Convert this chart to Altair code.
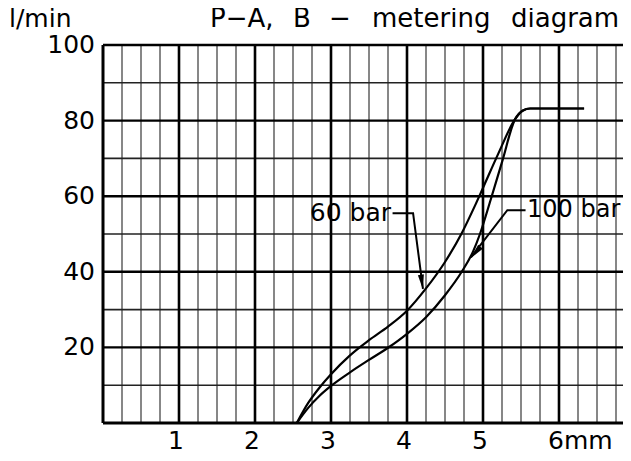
import altair as alt
import pandas as pd

# ---- data ----
x_60 = [2.55, 2.7, 2.85, 3.0, 3.25, 3.5, 3.75, 4.0, 4.25, 4.5, 4.72, 4.89, 5.0, 5.2, 5.42, 5.52, 5.62, 6.33]
y_60 = [0.0, 5.3, 9.4, 12.9, 17.9, 21.9, 25.5, 29.7, 35.6, 42.6, 50.2, 57.3, 62.2, 71.2, 80.3, 82.6, 83.2, 83.2]

x_100 = [2.55, 2.7, 2.85, 3.0, 3.25, 3.5, 3.75, 4.0, 4.25, 4.5, 4.72, 4.87, 4.96, 5.1, 5.25, 5.42, 5.52, 5.62, 6.33]
y_100 = [0.0, 4.0, 7.2, 9.8, 13.4, 16.7, 19.9, 23.6, 28.0, 33.8, 40.0, 45.4, 50.0, 59.0, 69.0, 80.3, 82.6, 83.2, 83.2]

x_ticks = [1, 2, 3, 4, 5, 6]
x_tick_labels = ["1", "2", "3", "4", "5", "6mm"]
y_ticks = [20, 40, 60, 80, 100]
y_tick_labels = ["20", "40", "60", "80", "100"]

x_minor = [i * 0.25 for i in range(1, 28) if i % 4 != 0]
x_major = [1, 2, 3, 4, 5, 6]
y_minor = [10, 30, 50, 70, 90]
y_major = [20, 40, 60, 80, 100]

# leader lines for the annotations
lead60_x = [4.08, 3.81, 4.08, 4.21]
lead60_y = [55.5, 55.5, 55.5, 35.5]
lead100_x = [5.56, 5.32, 4.84]
lead100_y = [56.3, 56.3, 43.8]
arrow_x = [4.21, 4.84]
arrow_y = [35.3, 43.6]
arrow_angle = [172, 220]
ann_x = [3.79, 5.58]
ann_y = [55.5, 56.3]
ann_text = ["60 bar", "100 bar"]

# title pieces (words of one title line)
title_words = ["P−A,", "B", "−", "metering", "diagram"]
title_px = [107, 190, 226, 269, 408]

W, H = 520, 378
XMAX = W / 76.0
FONT = "DejaVu Sans"
FS = 25

xs = alt.Scale(domain=[0, XMAX], nice=False, zero=False)
ys = alt.Scale(domain=[0, 100], nice=False, zero=False)

def X(f="x"):
    return alt.X(f"{f}:Q", scale=xs, axis=None)

def Y(f="y"):
    return alt.Y(f"{f}:Q", scale=ys, axis=None)

vminor = alt.Chart(pd.DataFrame({"x": x_minor})).mark_rule(color="#7a7a7a", strokeWidth=1.8).encode(x=X())
hminor = alt.Chart(pd.DataFrame({"y": y_minor})).mark_rule(color="#222222", strokeWidth=1.6).encode(y=Y())
vmajor = alt.Chart(pd.DataFrame({"x": x_major})).mark_rule(color="black", strokeWidth=2.6).encode(x=X())
hmajor = alt.Chart(pd.DataFrame({"y": y_major})).mark_rule(color="black", strokeWidth=2.4).encode(y=Y())
left_axis = alt.Chart(pd.DataFrame({"x": [0]})).mark_rule(color="black", strokeWidth=3).encode(x=X())
bottom_axis = alt.Chart(pd.DataFrame({"y": [0]})).mark_rule(color="black", strokeWidth=3).encode(y=Y())

df60 = pd.DataFrame({"x": x_60, "y": y_60, "o": range(len(x_60))})
df100 = pd.DataFrame({"x": x_100, "y": y_100, "o": range(len(x_100))})
c60 = alt.Chart(df60).mark_line(color="black", strokeWidth=2.2, interpolate="monotone").encode(x=X(), y=Y(), order="o:Q")
c100 = alt.Chart(df100).mark_line(color="black", strokeWidth=2.2, interpolate="monotone").encode(x=X(), y=Y(), order="o:Q")

l60 = alt.Chart(pd.DataFrame({"x": lead60_x, "y": lead60_y, "o": range(len(lead60_x))})).mark_line(
    color="black", strokeWidth=2).encode(x=X(), y=Y(), order="o:Q")
l100 = alt.Chart(pd.DataFrame({"x": lead100_x, "y": lead100_y, "o": range(len(lead100_x))})).mark_line(
    color="black", strokeWidth=2).encode(x=X(), y=Y(), order="o:Q")

arrows = alt.Chart(pd.DataFrame({"x": arrow_x, "y": arrow_y, "a": arrow_angle})).mark_point(
    shape="M0,0L0.2,1L-0.2,1Z", size=900, filled=True, color="black", opacity=1, strokeWidth=0
).encode(x=X(), y=Y(), angle=alt.Angle("a:Q", scale=None))

ann_df = pd.DataFrame({"x": ann_x, "y": ann_y, "t": ann_text})
ann60 = alt.Chart(ann_df.iloc[[0]]).mark_text(font=FONT, fontSize=FS, align="right", baseline="middle", color="black").encode(
    x=X(), y=Y(), text="t:N")
ann100 = alt.Chart(ann_df.iloc[[1]]).mark_text(font=FONT, fontSize=24, align="left", baseline="middle", color="black").encode(
    x=X(), y=Y(), text="t:N")

xl_df = pd.DataFrame({"x": x_ticks, "t": x_tick_labels})
xlab = alt.Chart(xl_df.iloc[:5]).mark_text(font=FONT, fontSize=FS, align="center", baseline="alphabetic", dx=-3, color="black").encode(
    x=X(), y=alt.value(H + 26), text="t:N")
xlab6 = alt.Chart(xl_df.iloc[5:]).mark_text(font=FONT, fontSize=FS, align="left", baseline="alphabetic", dx=-11, color="black").encode(
    x=X(), y=alt.value(H + 26), text="t:N")

yl_df = pd.DataFrame({"y": y_ticks, "t": y_tick_labels})
ylab = alt.Chart(yl_df).mark_text(font=FONT, fontSize=FS, align="right", baseline="middle", color="black").encode(
    x=alt.value(-8), y=Y(), text="t:N")

unit = alt.Chart(pd.DataFrame({"t": ["l/min"]})).mark_text(font=FONT, fontSize=FS, align="left", baseline="alphabetic", color="black").encode(
    x=alt.value(-94), y=alt.value(-18), text="t:N")
title = alt.Chart(pd.DataFrame({"t": title_words, "px": title_px})).mark_text(
    font=FONT, fontSize=26, align="left", baseline="alphabetic", color="black").encode(
    x=alt.X("px:Q", scale=None, axis=None), y=alt.value(-18), text="t:N")

chart = alt.layer(
    vminor, hminor, vmajor, hmajor, left_axis, bottom_axis,
    c60, c100, l60, l100, arrows, ann60, ann100, xlab, xlab6, ylab, unit, title
).properties(
    width=W, height=H,
    autosize=alt.AutoSizeParams(type="none"),
    padding={"left": 95, "top": 37, "right": 0, "bottom": 30},
    background="white",
).configure_view(stroke=None)

chart.save("out.html", embed_options={"renderer": "svg", "actions": False})
